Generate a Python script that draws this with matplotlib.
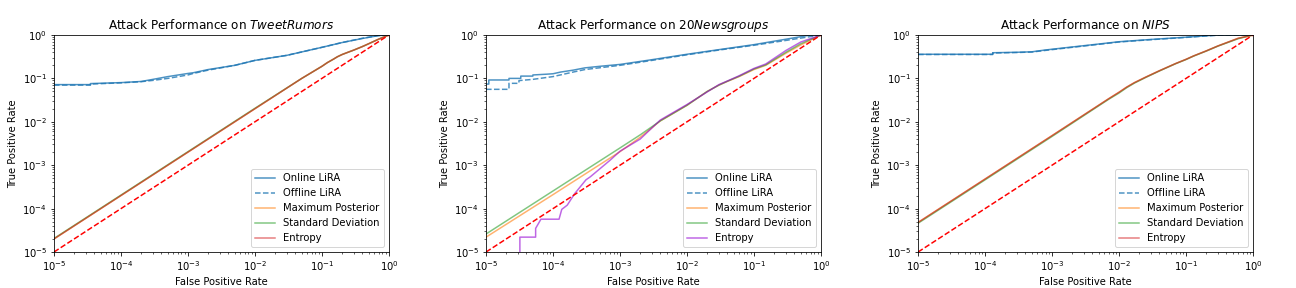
import matplotlib
matplotlib.use('Agg')
import matplotlib.pyplot as plt

# chance line
chance = [1e-5, 1.0]

# ---- TweetRumors ----
tr_online_fpr = [1e-5, 3.5e-5, 3.5e-5, 1e-4, 2e-4, 3e-4, 5e-4, 1e-3, 1.2e-3, 2e-3, 5e-3, 1e-2, 3e-2, 0.1, 0.2, 0.4, 0.7, 1.0]
tr_online_tpr = [0.072, 0.072, 0.076, 0.08, 0.085, 0.095, 0.11, 0.13, 0.135, 0.16, 0.2, 0.26, 0.34, 0.52, 0.67, 0.83, 0.97, 1.0]
tr_offline_fpr = [1e-5, 3.5e-5, 3.5e-5, 1e-4, 2e-4, 3e-4, 5e-4, 1e-3, 1.2e-3, 2e-3, 5e-3, 1e-2, 3e-2, 0.1, 0.2, 0.4, 0.7, 1.0]
tr_offline_tpr = [0.07, 0.07, 0.074, 0.079, 0.084, 0.09, 0.1, 0.12, 0.13, 0.155, 0.2, 0.26, 0.34, 0.52, 0.67, 0.84, 0.97, 1.0]
tr_base_fpr = [1e-5, 1e-3, 1e-2, 0.05, 0.1, 0.12, 0.15, 0.17, 0.2, 0.25, 0.3, 0.4, 0.5, 0.7, 1.0]
tr_maxpost_tpr = [2e-5, 2e-3, 2e-2, 0.1, 0.19, 0.23, 0.28, 0.315, 0.355, 0.405, 0.45, 0.54, 0.63, 0.8, 1.0]
tr_std_tpr = [2.05e-5, 2.05e-3, 2.05e-2, 0.1, 0.19, 0.23, 0.28, 0.315, 0.355, 0.405, 0.45, 0.54, 0.63, 0.8, 1.0]
tr_entropy_tpr = [2e-5, 2e-3, 2e-2, 0.1, 0.19, 0.23, 0.28, 0.315, 0.355, 0.405, 0.45, 0.54, 0.63, 0.8, 1.0]

# ---- 20Newsgroups ----
ng_online_fpr = [1e-5, 1.1e-5, 1.1e-5, 2.2e-5, 2.2e-5, 3.3e-5, 3.3e-5, 5e-5, 5e-5, 8e-5, 1e-4, 1.3e-4, 2e-4, 3e-4, 5e-4, 1e-3, 3e-3, 1e-2, 3e-2, 0.1, 0.3, 0.7, 1.0]
ng_online_tpr = [0.074, 0.074, 0.092, 0.092, 0.1, 0.1, 0.113, 0.113, 0.12, 0.125, 0.128, 0.14, 0.155, 0.175, 0.19, 0.21, 0.27, 0.36, 0.46, 0.6, 0.8, 1.0, 1.0]
ng_offline_fpr = [1e-5, 2.2e-5, 2.2e-5, 3.1e-5, 3.1e-5, 5e-5, 8e-5, 1e-4, 2e-4, 3e-4, 1e-3, 3e-3, 1e-2, 3e-2, 0.1, 0.3, 0.7, 1.0]
ng_offline_tpr = [0.056, 0.056, 0.077, 0.077, 0.089, 0.095, 0.105, 0.11, 0.14, 0.16, 0.2, 0.26, 0.35, 0.45, 0.58, 0.75, 0.92, 1.0]
ng_base_fpr = [1e-5, 1e-4, 1e-3, 2e-3, 4e-3, 1e-2, 2e-2, 3e-2, 4e-2, 6e-2, 0.1, 0.15, 0.3, 0.5, 1.0]
ng_maxpost_tpr = [2.2e-5, 2.1e-4, 2.05e-3, 4.4e-3, 0.0105, 0.024, 0.05, 0.07, 0.085, 0.11, 0.16, 0.2, 0.38, 0.59, 1.0]
ng_std_tpr = [2.6e-5, 2.55e-4, 2.5e-3, 5e-3, 0.0105, 0.024, 0.05, 0.07, 0.086, 0.112, 0.165, 0.205, 0.4, 0.63, 1.0]
ng_entropy_fpr = [3.2e-5, 3.2e-5, 5.5e-5, 5.5e-5, 6.6e-5, 1.23e-4, 1.35e-4, 1.63e-4, 2.1e-4, 3.1e-4, 3.6e-4, 7.1e-4, 1e-3, 2e-3, 4e-3, 1e-2, 3e-2, 4e-2, 6e-2, 0.1, 0.15, 0.3, 0.5, 1.0]
ng_entropy_tpr = [0.0, 2.2e-5, 2.2e-5, 3.5e-5, 5.7e-5, 5.7e-5, 9.6e-5, 1.2e-4, 2.2e-4, 4.6e-4, 5.4e-4, 1.3e-3, 2.1e-3, 4.0e-3, 0.011, 0.025, 0.072, 0.087, 0.115, 0.17, 0.215, 0.44, 0.69, 1.0]

# ---- NIPS ----
nips_online_fpr = [1e-5, 1.3e-4, 1.3e-4, 3e-4, 5e-4, 7.8e-4, 1e-3, 2e-3, 5e-3, 1e-2, 3e-2, 0.1, 0.2, 0.3, 1.0]
nips_online_tpr = [0.36, 0.36, 0.39, 0.40, 0.41, 0.45, 0.47, 0.53, 0.62, 0.70, 0.79, 0.89, 0.96, 1.0, 1.0]
nips_offline_fpr = [1e-5, 1.3e-4, 1.3e-4, 3e-4, 5e-4, 7.8e-4, 1e-3, 2e-3, 5e-3, 1e-2, 3e-2, 0.1, 0.2, 0.35, 1.0]
nips_offline_tpr = [0.355, 0.355, 0.385, 0.395, 0.405, 0.44, 0.46, 0.52, 0.61, 0.69, 0.78, 0.88, 0.95, 1.0, 1.0]
nips_base_fpr = [1e-5, 1e-3, 7e-3, 1e-2, 1.3e-2, 1.7e-2, 2.5e-2, 4e-2, 7e-2, 0.1, 0.13, 0.2, 0.3, 0.6, 1.0]
nips_maxpost_tpr = [4.8e-5, 4.8e-3, 0.034, 0.048, 0.063, 0.08, 0.107, 0.15, 0.22, 0.275, 0.33, 0.43, 0.56, 0.84, 1.0]
nips_std_tpr = [4.6e-5, 4.6e-3, 0.033, 0.046, 0.061, 0.078, 0.105, 0.148, 0.218, 0.272, 0.327, 0.425, 0.555, 0.82, 1.0]
nips_entropy_tpr = [4.8e-5, 4.8e-3, 0.034, 0.048, 0.063, 0.08, 0.107, 0.15, 0.22, 0.275, 0.33, 0.43, 0.56, 0.84, 1.0]

panels = [
    ('Attack Performance on $\\it{TweetRumors}$',
     tr_online_fpr, tr_online_tpr, tr_offline_fpr, tr_offline_tpr,
     tr_base_fpr, tr_maxpost_tpr, tr_base_fpr, tr_std_tpr, tr_base_fpr, tr_entropy_tpr, 'C3'),
    ('Attack Performance on 20$\\it{Newsgroups}$',
     ng_online_fpr, ng_online_tpr, ng_offline_fpr, ng_offline_tpr,
     ng_base_fpr, ng_maxpost_tpr, ng_base_fpr, ng_std_tpr, ng_entropy_fpr, ng_entropy_tpr, 'darkviolet'),
    ('Attack Performance on $\\it{NIPS}$',
     nips_online_fpr, nips_online_tpr, nips_offline_fpr, nips_offline_tpr,
     nips_base_fpr, nips_maxpost_tpr, nips_base_fpr, nips_std_tpr, nips_base_fpr, nips_entropy_tpr, 'C3'),
]

fig, axes = plt.subplots(1, 3, figsize=(18, 4), dpi=72)
fig.subplots_adjust(left=54/1296, right=1253/1296, top=1-35/288, bottom=1-252/288, wspace=0.29)

for ax, p in zip(axes, panels):
    title, on_x, on_y, off_x, off_y, mp_x, mp_y, sd_x, sd_y, en_x, en_y, en_color = p
    ax.plot(on_x, on_y, color='C0', alpha=0.8, label='Online LiRA')
    ax.plot(off_x, off_y, color='C0', ls='--', alpha=0.8, label='Offline LiRA')
    ax.plot(mp_x, mp_y, color='C1', alpha=0.6, label='Maximum Posterior')
    ax.plot(sd_x, sd_y, color='C2', alpha=0.6, label='Standard Deviation')
    ax.plot(en_x, en_y, color=en_color, alpha=0.6, label='Entropy')
    ax.plot(chance, chance, 'r--')
    ax.set_xscale('log')
    ax.set_yscale('log')
    ax.set_xlim(1e-5, 1)
    ax.set_ylim(1e-5, 1)
    ax.set_xlabel('False Positive Rate')
    ax.set_ylabel('True Positive Rate')
    ax.set_title(title, fontsize=12)
    ax.legend(loc='lower right')

plt.savefig('out.png', dpi=72)
